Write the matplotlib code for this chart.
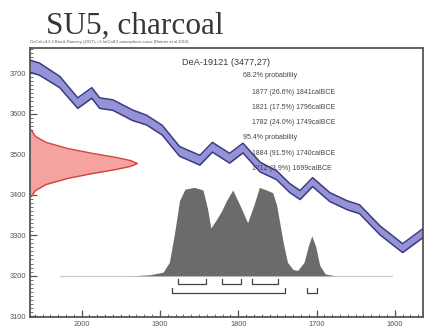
import numpy as np
import matplotlib.pyplot as plt
from matplotlib.ticker import MultipleLocator

# calibration curve (IntCal13 section)
curve_years = [2066, 2054, 2028, 2005, 1987, 1977, 1960, 1935, 1917, 1897, 1875, 1849, 1833,
               1811, 1794, 1772, 1751, 1734, 1721, 1705, 1683, 1661, 1645, 1619, 1590, 1564]
curve_bp = [3717, 3710, 3678, 3626, 3651, 3626, 3621, 3596, 3584, 3559, 3507, 3485, 3517,
            3490, 3515, 3468, 3448, 3416, 3399, 3431, 3394, 3374, 3364, 3312, 3268, 3305]
curve_err = [15, 15, 14, 13, 13, 13, 13, 13, 12, 12, 12, 12, 12,
             12, 12, 12, 11, 11, 11, 11, 11, 11, 11, 11, 11, 11]

# radiocarbon date 3477 +/- 27 (red, on the y axis)
r14_bp = [3395, 3410, 3425, 3440, 3452, 3462, 3470, 3477, 3484, 3492, 3502, 3514, 3529, 3544, 3560]
r14_dens = [0.01, 0.05, 0.15, 0.35, 0.58, 0.80, 0.94, 1.0, 0.94, 0.80, 0.58, 0.35, 0.15, 0.05, 0.01]

# calibrated date (grey)
cal_years = [1935, 1913, 1896, 1888, 1881, 1875, 1868, 1856, 1845, 1839, 1835, 1829, 1822, 1815,
             1807, 1798, 1788, 1780, 1773, 1764, 1756, 1751, 1747, 1742, 1737, 1730, 1724, 1716,
             1710, 1706, 1701, 1696, 1689, 1677]
cal_dens = [0.0, 0.01, 0.04, 0.15, 0.5, 0.85, 0.98, 1.0, 0.97, 0.75, 0.54, 0.62, 0.72, 0.85,
            0.97, 0.8, 0.6, 0.8, 1.0, 0.97, 0.94, 0.8, 0.6, 0.35, 0.15, 0.07, 0.06, 0.15,
            0.35, 0.45, 0.33, 0.12, 0.02, 0.0]

ranges_68 = [(1877, 1841), (1821, 1796), (1782, 1749)]
ranges_95 = [(1884, 1740), (1712, 1699)]

text_lines = ["68.2% probability",
              "1877 (26.6%) 1841calBCE",
              "1821 (17.5%) 1796calBCE",
              "1782 (24.0%) 1749calBCE",
              "95.4% probability",
              "1884 (91.5%) 1740calBCE",
              "1712 (3.9%) 1699calBCE"]

plt.rcParams['font.family'] = ['Liberation Sans', 'DejaVu Sans']

fig = plt.figure(figsize=(4.26, 3.31), dpi=100)
ax = fig.add_axes([0.0704, 0.0423, 0.9225, 0.8127])
ax.set_xlim(2066, 1564)
ax.set_ylim(3098, 3762)

# calibration curve band
cy = np.array(curve_years)
cb = np.array(curve_bp)
ce = np.array(curve_err)
ax.fill_between(cy, cb - ce, cb + ce, color='#9393d6', lw=0, zorder=2)
ax.plot(cy, cb + ce, color='#3c3a85', lw=1.1, zorder=3)
ax.plot(cy, cb - ce, color='#3c3a85', lw=1.1, zorder=3)

# radiocarbon date on the y axis
red_w = 137
rx = 2066 - np.array(r14_dens) * red_w
ax.fill_betweenx(r14_bp, 2066, rx, color='#f5a3a0', lw=0, zorder=2)
ax.plot(rx, r14_bp, color='#d2443e', lw=1.0, zorder=3)

# calibrated distribution
base = 3200
ax.plot([2028, 1603], [base, base], color='#c8c8c8', lw=0.8, zorder=2)
ax.fill_between(cal_years, base, base + np.array(cal_dens) * 218, color='#6b6b6b', lw=0, zorder=3)

# range brackets
for rows, yb in [(ranges_68, 3179), (ranges_95, 3157)]:
    for a, b in rows:
        ax.plot([a, a, b, b], [yb + 12, yb, yb, yb + 12], color='#444444', lw=0.9, zorder=3)

# text
ax.text(1872, 3725, "DeA-19121 (3477,27)", fontsize=6.6, color='#3a3a3a', va='center', ha='left', zorder=5)
text_y = [3695, 3653, 3616, 3579, 3540, 3502, 3465]
for s, ty in zip(text_lines, text_y):
    tx = 1794 if 'probability' in s else 1783
    ax.text(tx, ty, s, fontsize=5, color='#444444', va='center', ha='left', zorder=5)

# axes style
ax.set_xticks([2000, 1900, 1800, 1700, 1600])
ax.set_yticks([3100, 3200, 3300, 3400, 3500, 3600, 3700])
ax.xaxis.set_minor_locator(MultipleLocator(10))
ax.yaxis.set_minor_locator(MultipleLocator(10))
ax.tick_params(which='both', direction='in', color='#555555', top=False, right=False,
               labelsize=5.3, labelcolor='#555555', pad=3)
ax.tick_params(which='major', length=5, width=0.9)
ax.tick_params(which='minor', length=2.5, width=0.6)
for sp in ax.spines.values():
    sp.set_color('#555555')
    sp.set_linewidth(1.3)

fig.text(0.0704, 0.866, "OxCal v4.3.2 Bronk Ramsey (2017); r:5 IntCal13 atmospheric curve (Reimer et al 2013)",
         fontsize=3, color='#555555', va='bottom', ha='left')
fig.text(0.108, 0.898, "SU5, charcoal", fontsize=22.5, color='#363636', va='baseline', ha='left',
         family=['Liberation Serif', 'DejaVu Serif'])

fig.savefig('out.png', dpi=100)
